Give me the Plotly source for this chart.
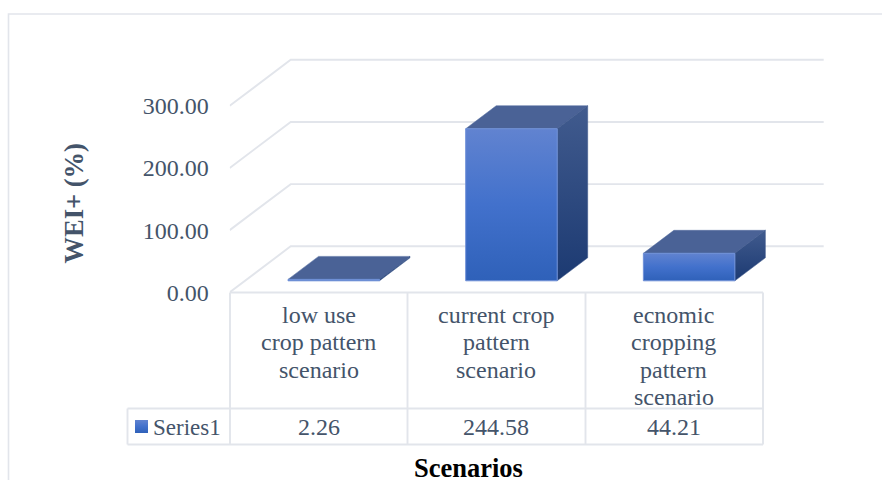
import plotly.graph_objects as go

# Chart data
category_lines = [
    ["low use", "crop pattern", "scenario"],
    ["current crop", "pattern", "scenario"],
    ["ecnomic", "cropping", "pattern", "scenario"],
]
wei_values = [2.26, 244.58, 44.21]
value_ticks = [0, 100, 200, 300]
series_name = "Series1"

# Oblique projection: depth 0 is the front edge of the floor, depth 1 the back wall
SLANT_X = 0.3433  # category units per unit of depth
SLANT_Y = 74.0    # value units per unit of depth
BAR_WIDTH = 0.515
BAR_DEPTH = (0.25, 0.75)

SERIF = "Liberation Serif"
SLATE = "#44546a"
RULE = "#e2e5eb"
LABEL_SIZE = 24


def project(cat, value, depth):
    return cat + SLANT_X * depth, value + SLANT_Y * depth


def face(corners):
    pts = [project(*c) for c in corners]
    pts.append(pts[0])
    return [p[0] for p in pts], [p[1] for p in pts]


def gradient(stops, start=None, stop=None):
    return dict(type="vertical", colorscale=stops, start=start, stop=stop)


fig = go.Figure()

# Walls: a slanted rule on the left side and a level rule on the back for each tick
n_cat = len(wei_values)
for v in value_ticks:
    xs, ys = zip(project(0, v, 0), project(0, v, 1), project(n_cat, v, 1))
    fig.add_trace(go.Scatter(x=xs, y=ys, mode="lines", xaxis="x2", yaxis="y2",
                             line=dict(color=RULE, width=1.9), hoverinfo="skip"))

# Bars: each one is three faces built from its value
FRONT_STOPS = [[0, "#2f61b9"], [0.5, "#4271cc"], [1, "#6183d0"]]
SIDE_STOPS = [[0, "#1c3a72"], [1, "#415b8e"]]
for i, v in enumerate(wei_values):
    left = i + 0.5 - BAR_WIDTH / 2
    right = i + 0.5 + BAR_WIDTH / 2
    d0, d1 = BAR_DEPTH

    x, y = face([(left, v, d0), (right, v, d0), (right, v, d1), (left, v, d1)])
    fig.add_trace(go.Scatter(x=x, y=y, mode="lines", fill="toself", xaxis="x2", yaxis="y2",
                             fillcolor="#4a6296", line=dict(color="#4f689c", width=0.5),
                             hoverinfo="skip"))

    x, y = face([(right, 0, d0), (right, 0, d1), (right, v, d1), (right, v, d0)])
    fig.add_trace(go.Scatter(x=x, y=y, mode="lines", fill="toself", xaxis="x2", yaxis="y2",
                             fillgradient=gradient(SIDE_STOPS), line=dict(color="#3a5488", width=0.5),
                             hoverinfo="skip"))

    x, y = face([(left, 0, d0), (right, 0, d0), (right, v, d0), (left, v, d0)])
    fig.add_trace(go.Scatter(x=x, y=y, mode="lines", fill="toself", xaxis="x2", yaxis="y2",
                             fillgradient=gradient(FRONT_STOPS), line=dict(color="#6f90d8", width=1),
                             hoverinfo="skip"))

# Legend key in the data table
fig.add_trace(go.Scatter(x=[135, 148, 148, 135, 135], y=[420, 420, 433, 433, 420],
                         mode="lines", fill="toself", line=dict(width=0),
                         fillgradient=gradient(FRONT_STOPS), hoverinfo="skip"))

# Chart frame and data-table rules, in page pixels on the overlay axes
shapes = [dict(type="rect", x0=8.5, y0=14, x1=900, y1=500, line=dict(color=RULE, width=1.6), layer="below")]
table_rules = [
    (230, 292.5, 763, 292.5), (127.5, 408.5, 763, 408.5), (127.5, 444.5, 763, 444.5),
    (230, 292.5, 230, 444.5), (407.5, 292.5, 407.5, 444.5), (585.5, 292.5, 585.5, 444.5),
    (763, 292.5, 763, 444.5), (127.5, 408.5, 127.5, 444.5),
]
for x0, y0, x1, y1 in table_rules:
    shapes.append(dict(type="line", x0=x0, y0=y0, x1=x1, y1=y1, line=dict(color=RULE, width=1.9), layer="below"))
for s in shapes:
    s.update(xref="x", yref="y")

# Table text
annotations = []
LINE_TOPS = [315, 342.3, 369.6, 396.9]
for i, lines in enumerate(category_lines):
    for row, text in enumerate(lines):
        annotations.append(dict(x=i + 0.5, y=LINE_TOPS[row], xref="x2", yref="y", text=text,
                                showarrow=False, xanchor="center", yanchor="middle",
                                font=dict(family=SERIF, size=LABEL_SIZE, color=SLATE)))
    annotations.append(dict(x=i + 0.5, y=427, xref="x2", yref="y", text=f"{wei_values[i]:.2f}",
                            showarrow=False, xanchor="center", yanchor="middle",
                            font=dict(family=SERIF, size=LABEL_SIZE, color=SLATE)))
annotations.append(dict(x=151, y=427, xref="x", yref="y", text=series_name, showarrow=False,
                        xanchor="left", yanchor="middle",
                        font=dict(family=SERIF, size=23, color=SLATE)))

# Axis titles
annotations.append(dict(x=73, y=203.5, xref="x", yref="y", text="<b>WEI+ (%)</b>", textangle=-90,
                        showarrow=False, xanchor="center", yanchor="middle",
                        font=dict(family=SERIF, size=26.5, color=SLATE)))
annotations.append(dict(x=468, y=467.5, xref="x", yref="y", text="<b>Scenarios</b>", showarrow=False,
                        xanchor="center", yanchor="middle",
                        font=dict(family=SERIF, size=26.5, color="black")))

W, H = 882, 480
fig.update_layout(
    width=W, height=H, margin=dict(l=0, r=0, t=0, b=0, autoexpand=False),
    paper_bgcolor="white", plot_bgcolor="rgba(0,0,0,0)", showlegend=False,
    shapes=shapes, annotations=annotations,
    # Overlay axes in page pixels
    xaxis=dict(domain=[0, 1], range=[0, W], visible=False, fixedrange=True, automargin=False),
    yaxis=dict(domain=[0, 1], range=[H, 0], visible=False, fixedrange=True, automargin=False),
    # Chart axes: categories across, values up
    xaxis2=dict(domain=[229.7 / W, 829.7 / W], range=[0, 600 / 177.67], anchor="y2", visible=False,
                fixedrange=True, automargin=False),
    yaxis2=dict(domain=[(H - 292.3) / H, (H - 50) / H], range=[0, 242.3 / 0.6217], anchor="x2",
                tickmode="array", tickvals=value_ticks, tickformat=".2f",
                showgrid=False, zeroline=False, showline=False, ticks="", ticklabelstandoff=20,
                tickfont=dict(family=SERIF, size=LABEL_SIZE, color=SLATE), fixedrange=True, automargin=False),
)

fig.write_html("out.html")
